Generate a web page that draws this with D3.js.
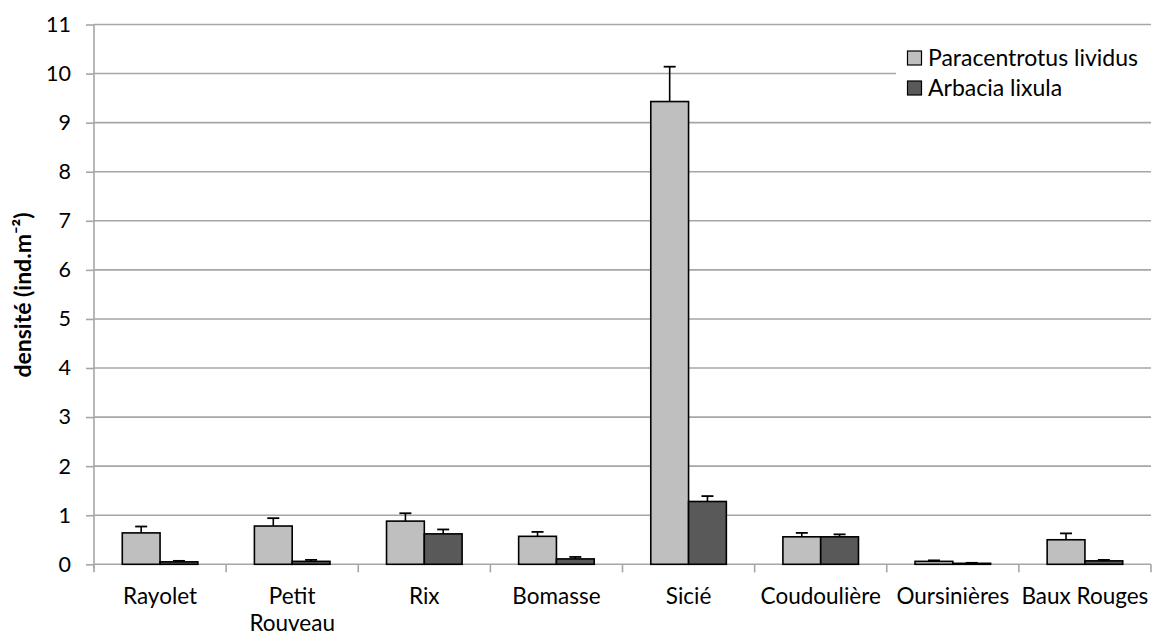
<!DOCTYPE html>
<html><head><meta charset="utf-8">
<script src="https://cdn.jsdelivr.net/npm/d3@7/dist/d3.min.js"></script>
<style>body{margin:0;background:#fff}svg{display:block}</style>
</head><body>
<svg id="c" width="1152" height="636"></svg>
<script>
const categories = ["Rayolet", "Petit Rouveau", "Rix", "Bomasse", "Sicié", "Coudoulière", "Oursinières", "Baux Rouges"];
const categoryLines = [["Rayolet"], ["Petit", "Rouveau"], ["Rix"], ["Bomasse"], ["Sicié"], ["Coudoulière"], ["Oursinières"], ["Baux Rouges"]];
const seriesNames = ["Paracentrotus lividus", "Arbacia lixula"];
const paracentrotus = [0.64, 0.78, 0.88, 0.57, 9.43, 0.56, 0.06, 0.50];
const paracentrotusErr = [0.13, 0.16, 0.16, 0.09, 0.71, 0.08, 0.02, 0.13];
const arbacia = [0.05, 0.06, 0.62, 0.11, 1.28, 0.56, 0.02, 0.07];
const arbaciaErr = [0.02, 0.03, 0.09, 0.04, 0.11, 0.05, 0.01, 0.02];
const yTicks = [0,1,2,3,4,5,6,7,8,9,10,11];
const colors = ["#bfbfbf", "#595959"];

const FONT = "Lato, 'Open Sans', sans-serif";
const svg = d3.select("#c");
const mLeft = 94, mRight = 1151, mTop = 24.5, mBottom = 564.3;

const x = d3.scaleBand().domain(categories).range([mLeft, mRight]).paddingInner(0).paddingOuter(0);
const y = d3.scaleLinear().domain([0, 11]).range([mBottom, mTop]);
const gapFrac = 0.214;
const x1 = d3.scaleBand().domain([0,1]).range([0, x.bandwidth()*(1-2*gapFrac)]);

// gridlines
svg.append("g").selectAll("line").data(yTicks.filter(d=>d>0)).join("line")
  .attr("x1", mLeft).attr("x2", mRight).attr("y1", d=>y(d)).attr("y2", d=>y(d))
  .attr("stroke", "#a6a6a6").attr("stroke-width", 1.6);

// y axis
const yAxis = svg.append("g").attr("transform", `translate(${mLeft},0)`)
  .call(d3.axisLeft(y).tickValues(yTicks).tickSize(8).tickPadding(15).tickFormat(d3.format("d")));
yAxis.select(".domain").attr("stroke", "#a6a6a6").attr("stroke-width", 1.6).attr("d", `M0,${mTop}V${mBottom+4}`);
yAxis.selectAll(".tick line").attr("stroke", "#a6a6a6").attr("stroke-width", 1.6);
yAxis.selectAll(".tick text").attr("font-family", FONT).attr("font-size", 21.5).attr("fill", "#000");

// x axis
const xAxis = svg.append("g").attr("transform", `translate(0,${mBottom})`);
xAxis.append("line").attr("x1", mLeft).attr("x2", mRight).attr("stroke", "#a6a6a6").attr("stroke-width", 1.6);
const bounds = categories.map(c=>x(c)).concat([mRight]);
xAxis.selectAll("line.t").data(bounds).join("line").attr("class","t")
  .attr("x1", d=>d).attr("x2", d=>d).attr("y1", 0).attr("y2", 8)
  .attr("stroke", "#a6a6a6").attr("stroke-width", 1.6);
const lbl = xAxis.selectAll("text").data(categories).join("text")
  .attr("x", d=>x(d)+x.bandwidth()/2).attr("y", 40)
  .attr("text-anchor","middle").attr("font-family", FONT).attr("font-size", 22.5).attr("fill","#000");
lbl.each(function(d,i){
  const t = d3.select(this);
  categoryLines[i].forEach((ln,j)=>{
    t.append("tspan").attr("x", x(d)+x.bandwidth()/2).attr("dy", j===0?0:27).text(ln);
  });
});

// bars
const series = [
  {vals: paracentrotus, errs: paracentrotusErr},
  {vals: arbacia, errs: arbaciaErr}
];
series.forEach((s, si)=>{
  const g = svg.append("g");
  categories.forEach((c, i)=>{
    const bx = x(c) + x.bandwidth()*gapFrac + x1(si);
    const v = s.vals[i], e = s.errs[i];
    const cx = bx + x1.bandwidth()/2;
    g.append("line").attr("x1", cx).attr("x2", cx).attr("y1", y(v)).attr("y2", y(v+e))
      .attr("stroke", "#000").attr("stroke-width", 1.6);
    g.append("line").attr("x1", cx-6).attr("x2", cx+6).attr("y1", y(v+e)).attr("y2", y(v+e))
      .attr("stroke", "#000").attr("stroke-width", 1.8);
    g.append("rect").attr("x", bx).attr("y", y(v)).attr("width", x1.bandwidth()).attr("height", y(0)-y(v))
      .attr("fill", colors[si]).attr("stroke", "#000").attr("stroke-width", 1.6);
  });
});

// y title
svg.append("text").attr("transform", "translate(31,295) rotate(-90)")
  .attr("text-anchor", "middle").attr("font-family", FONT).attr("font-weight", "bold")
  .attr("font-size", 23).attr("fill", "#000").text("densité (ind.m⁻²)");

// legend
const lg = svg.append("g");
lg.append("rect").attr("x", 896).attr("y", 42).attr("width", 255).attr("height", 62).attr("fill", "#fff");
seriesNames.forEach((n, i)=>{
  const cy = 58 + i*30;
  lg.append("rect").attr("x", 907.5).attr("y", cy-7).attr("width", 14).attr("height", 14)
    .attr("fill", colors[i]).attr("stroke", "#000").attr("stroke-width", 1.2);
  lg.append("text").attr("x", 928).attr("y", cy).attr("dy", "0.36em")
    .attr("font-family", FONT).attr("font-size", 23).attr("fill", "#000").text(n);
});
</script>
</body></html>
